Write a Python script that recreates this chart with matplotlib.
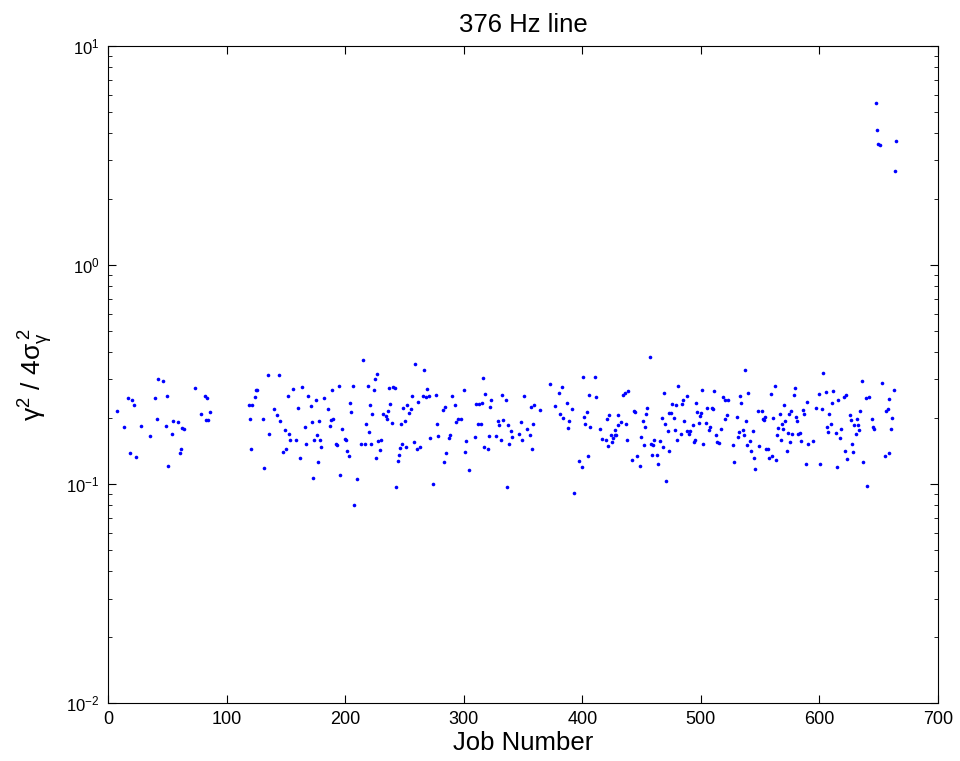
import matplotlib
matplotlib.use("Agg")
import matplotlib.pyplot as plt
import numpy as np

plt.rcParams["font.family"] = ["Liberation Sans", "DejaVu Sans"]
plt.rcParams["mathtext.fontset"] = "custom"
plt.rcParams["mathtext.rm"] = "Liberation Sans"
plt.rcParams["mathtext.it"] = "Liberation Sans:italic"

# job number, gamma^2 / 4 sigma^2
job = [
    7.3, 13.5, 16.6, 18.5, 20.5, 21.6, 23.3, 27.5, 35.4, 39.6, 41.6, 42.4, 46.7, 48.6, 49.7,
    50.6, 53.7, 54.8, 58.7, 60.7, 61.6, 62.7, 63.8, 73.6, 78.7, 81.8, 82.6, 83.8, 84.6, 85.7,
    134.7, 143.9, 124.8, 126.0, 123.7, 118.6, 121.7, 119.8, 139.7, 142.8, 130.7, 144.8, 135.8,
    120.6, 131.6, 151.8, 155.7, 163.9, 169.0, 175.1, 181.9, 188.9, 194.8, 206.9, 204.1, 205.0,
    170.9, 160.0, 185.8, 149.0, 152.9, 153.8, 158.8, 165.9, 172.1, 178.0, 166.7, 174.0, 178.8,
    179.9, 176.0, 188.1, 190.0, 187.0, 197.1, 192.0, 193.1, 199.9, 201.0, 201.8, 203.0, 147.9,
    149.8, 161.6, 176.8, 172.9, 196.0, 210.0, 207.8,
    215.0, 259.2, 266.2, 226.8, 225.2, 219.0, 224.0, 237.2, 240.3, 242.0, 269.3, 256.1, 265.3,
    268.2, 270.4, 276.3, 261.1, 290.1, 300.2, 316.5, 318.2, 221.2, 238.1, 252.1, 249.0, 255.2,
    254.1, 236.1, 231.9, 234.1, 235.3, 222.9, 239.2, 250.2, 247.1, 217.8, 220.1, 282.2, 284.5,
    292.3, 277.2, 295.1, 297.4, 293.2, 310.3, 313.1, 315.4, 312.0, 314.3, 213.1, 217.0, 222.1,
    228.0, 230.2, 229.1, 226.0, 247.9, 246.2, 251.3, 245.4, 244.3, 258.0, 260.3, 263.1, 271.3,
    278.0, 287.3, 288.1, 285.0, 283.1, 302.2, 301.3, 304.1, 309.2, 317.1, 320.2, 321.3, 243.1,
    274.1,
    323.3, 322.5, 332.3, 335.4, 350.6, 328.7, 333.4, 329.5, 337.4, 327.5, 331.5, 339.6, 340.5,
    338.5, 348.6, 346.4, 349.5, 353.7, 358.5, 355.7, 357.6, 356.5, 359.6, 364.6, 372.5, 382.6,
    380.7, 376.7, 386.9, 391.6, 381.5, 383.8, 388.5, 387.7, 400.6, 410.8, 405.7, 411.6, 403.7,
    401.8, 402.6, 406.8, 414.7, 420.9, 422.6, 429.9, 416.7, 419.7, 421.7, 424.0, 424.8, 426.2,
    427.6, 428.7, 427.9, 430.4, 397.5, 399.8, 404.8, 336.5, 392.8,
    456.8, 434.0, 435.7, 438.8, 432.6, 436.9, 437.7, 468.6, 481.0, 443.6, 444.7, 454.9, 453.7,
    450.9, 452.9, 449.8, 451.8, 457.7, 459.6, 460.8, 465.8, 467.8, 458.8, 462.7, 472.8, 441.9,
    445.9, 448.9, 463.6, 470.9, 466.9, 469.7, 472.0, 473.4, 474.8, 477.1, 475.9, 479.0, 483.8,
    484.9, 488.0, 477.9, 479.9, 483.0, 486.1, 488.6, 489.7, 490.8, 493.1, 494.2, 495.0, 495.9,
    497.0, 498.1, 499.0, 499.8, 501.0, 501.8, 504.0, 504.9, 506.9, 508.0, 509.1, 509.9, 511.1,
    513.0, 513.9, 515.0, 517.0, 518.9, 520.6, 522.9, 522.0, 520.1, 527.1, 528.2, 530.2, 531.0,
    532.2, 533.0, 534.1, 535.3, 536.4, 536.9, 538.1, 538.9, 540.0, 541.1,
    542.3, 544.0, 545.2, 546.0, 548.2, 551.3, 549.1, 552.2, 553.0, 554.1, 555.3, 556.4, 557.2,
    560.3, 563.4, 559.2, 562.3, 561.2, 565.1, 564.3, 566.5, 567.4, 568.5, 569.3, 570.2, 571.3,
    572.4, 573.3, 574.4, 575.2, 576.4, 577.2, 578.3, 579.2, 580.3, 581.1, 582.3, 583.4, 584.2,
    586.2, 587.3, 588.4, 589.3, 590.4, 594.3, 597.4, 599.4, 600.2, 602.2, 603.3, 605.6, 606.4,
    607.6, 608.4, 609.5, 610.7, 611.5, 613.7, 614.6, 615.4, 617.4, 618.5, 620.5, 621.3, 622.5,
    623.6, 625.6, 626.7, 627.5, 628.6, 629.5, 630.6, 631.5, 632.3, 633.4, 634.3, 635.7, 636.5,
    639.3, 640.4, 641.6, 644.4, 645.5, 646.4, 652.5, 655.3, 656.5, 657.6, 658.4, 659.0, 660.3,
    661.5, 662.6,
    647.4, 648.5, 649.7, 650.8, 664.6, 663.4,
]
ratio = [
    0.215, 0.182, 0.248, 0.138, 0.243, 0.230, 0.133, 0.184, 0.166, 0.246, 0.198, 0.302, 0.294, 0.184, 0.253,
    0.121, 0.170, 0.194, 0.192, 0.139, 0.145, 0.181, 0.179, 0.275, 0.209, 0.253, 0.197, 0.246, 0.195, 0.214,
    0.313, 0.316, 0.268, 0.270, 0.249, 0.229, 0.229, 0.199, 0.220, 0.207, 0.198, 0.194, 0.170,
    0.145, 0.118, 0.253, 0.272, 0.277, 0.252, 0.243, 0.246, 0.269, 0.279, 0.279, 0.234, 0.214,
    0.227, 0.222, 0.220, 0.176, 0.170, 0.159, 0.158, 0.183, 0.191, 0.194, 0.153, 0.158, 0.159,
    0.147, 0.167, 0.197, 0.199, 0.184, 0.178, 0.153, 0.151, 0.160, 0.159, 0.141, 0.134, 0.140,
    0.145, 0.131, 0.126, 0.107, 0.110, 0.105, 0.0805,
    0.367, 0.354, 0.331, 0.317, 0.300, 0.281, 0.268, 0.275, 0.276, 0.275, 0.271, 0.252, 0.252,
    0.250, 0.252, 0.256, 0.236, 0.252, 0.268, 0.305, 0.258, 0.230, 0.231, 0.230, 0.223, 0.221,
    0.210, 0.216, 0.209, 0.204, 0.198, 0.208, 0.190, 0.193, 0.187, 0.187, 0.173, 0.218, 0.224,
    0.229, 0.187, 0.199, 0.199, 0.191, 0.231, 0.231, 0.234, 0.187, 0.187, 0.152, 0.152, 0.152,
    0.157, 0.159, 0.143, 0.132, 0.152, 0.146, 0.147, 0.136, 0.128, 0.156, 0.145, 0.148, 0.162,
    0.165, 0.163, 0.168, 0.139, 0.126, 0.157, 0.140, 0.116, 0.164, 0.148, 0.145, 0.166, 0.097,
    0.100,
    0.241, 0.224, 0.256, 0.242, 0.253, 0.194, 0.196, 0.186, 0.186, 0.166, 0.158, 0.174, 0.164,
    0.153, 0.191, 0.170, 0.158, 0.179, 0.188, 0.167, 0.145, 0.224, 0.230, 0.218, 0.287, 0.278,
    0.261, 0.227, 0.234, 0.219, 0.209, 0.200, 0.194, 0.181, 0.309, 0.309, 0.255, 0.250, 0.214,
    0.202, 0.188, 0.183, 0.179, 0.199, 0.206, 0.206, 0.161, 0.158, 0.149, 0.167, 0.156, 0.163,
    0.168, 0.168, 0.176, 0.186, 0.128, 0.119, 0.134, 0.097, 0.091,
    0.382, 0.256, 0.260, 0.265, 0.191, 0.188, 0.159, 0.259, 0.281, 0.215, 0.213, 0.222, 0.209,
    0.194, 0.182, 0.164, 0.150, 0.152, 0.151, 0.158, 0.157, 0.148, 0.135, 0.136, 0.141, 0.129,
    0.134, 0.121, 0.123, 0.103, 0.200, 0.187, 0.174, 0.210, 0.210, 0.200, 0.232, 0.230, 0.231,
    0.241, 0.253, 0.177, 0.159, 0.169, 0.193, 0.174, 0.169, 0.174, 0.185, 0.155, 0.159, 0.235,
    0.214, 0.189, 0.205, 0.210, 0.269, 0.153, 0.189, 0.223, 0.177, 0.183, 0.222, 0.221, 0.265,
    0.168, 0.156, 0.154, 0.178, 0.249, 0.243, 0.243, 0.206, 0.199, 0.151, 0.126, 0.203, 0.164,
    0.172, 0.253, 0.235, 0.177, 0.168, 0.331, 0.194, 0.150, 0.259, 0.157,
    0.141, 0.174, 0.132, 0.117, 0.216, 0.216, 0.149, 0.199, 0.196, 0.202, 0.145, 0.144, 0.132,
    0.134, 0.129, 0.257, 0.281, 0.201, 0.180, 0.168, 0.208, 0.159, 0.188, 0.179, 0.229, 0.194,
    0.141, 0.171, 0.208, 0.155, 0.215, 0.169, 0.256, 0.273, 0.203, 0.194, 0.170, 0.171, 0.157,
    0.217, 0.208, 0.123, 0.237, 0.153, 0.157, 0.223, 0.257, 0.124, 0.219, 0.320, 0.264, 0.183,
    0.172, 0.209, 0.187, 0.234, 0.266, 0.171, 0.119, 0.243, 0.163, 0.178, 0.250, 0.141, 0.256,
    0.130, 0.206, 0.196, 0.153, 0.140, 0.186, 0.169, 0.199, 0.185, 0.177, 0.215, 0.294, 0.126,
    0.247, 0.098, 0.250, 0.199, 0.183, 0.179, 0.288, 0.134, 0.215, 0.221, 0.138, 0.245, 0.179,
    0.201, 0.268,
    5.51, 4.12, 3.57, 3.52, 3.70, 2.68,
]

fig = plt.figure(figsize=(9.6, 7.61), dpi=100)
ax = fig.add_axes([0.1125, 0.0762, 0.8646, 0.8634])
ax.plot(job, ratio, "o", color="#0000ff", ms=2.6, mew=0)
ax.set_yscale("log")
ax.set_xlim(0, 700)
ax.set_ylim(1e-2, 1e1)
ax.set_xticks(np.arange(0, 701, 100))
ax.tick_params(which="both", direction="in", top=True, right=True)
ax.tick_params(which="major", length=6)
ax.tick_params(which="minor", length=3)
ax.tick_params(axis="x", labelsize=13, pad=6)
ax.tick_params(axis="y", labelsize=12, pad=6)
ax.set_title("376 Hz line", fontsize=18.5, pad=10)
ax.set_xlabel("Job Number", fontsize=18.5, labelpad=2)
ax.set_ylabel(r"$\mathrm{\gamma}^2$ / 4$\mathrm{\sigma}_{\mathrm{\gamma}}^{\;2}$", fontsize=19, labelpad=8)

fig.savefig("out.png", dpi=100)
